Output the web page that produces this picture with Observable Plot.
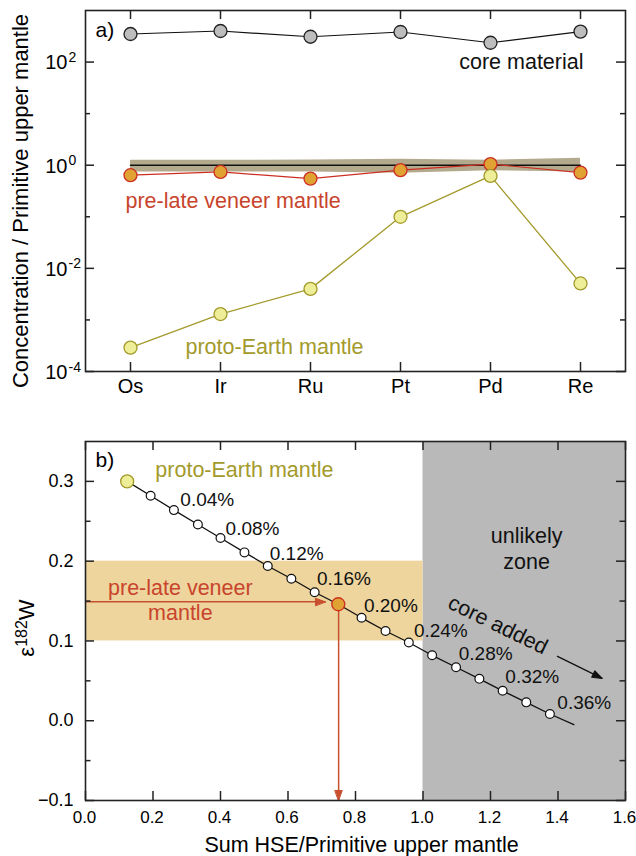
<!DOCTYPE html>
<html><head><meta charset="utf-8">
<script src="https://cdn.jsdelivr.net/npm/d3@7"></script>
<script src="https://cdn.jsdelivr.net/npm/@observablehq/plot@0.6"></script>
<style>
html,body{margin:0;padding:0;background:#fff;}
#chart svg{display:block;}
</style></head><body><div id="chart"></div>
<script>
// ---------- Panel a data ----------
const elements = ["Os", "Ir", "Ru", "Pt", "Pd", "Re"];
const coreMaterial = [350, 400, 310, 383, 237, 390];
const preLateVeneer = [0.64, 0.74, 0.55, 0.80, 1.05, 0.72];
const protoEarth = [2.9e-4, 1.3e-3, 4.0e-3, 0.10, 0.62, 5.1e-3];
const primUpperMantle = [1, 1, 1, 1, 1, 1];
const pumLow = [0.74, 0.74, 0.74, 0.70, 0.78, 0.74];
const pumHigh = [1.25, 1.25, 1.26, 1.30, 1.25, 1.36];
const yTicksMajorA = [1e-4, 1e-2, 1, 1e2];
const yTicksMinorA = [1e-3, 1e-1, 10];

// ---------- Panel b data ----------
const mixSum = [0.1235, 0.193, 0.262, 0.333, 0.400, 0.471, 0.540, 0.610, 0.679, 0.749,
                0.818, 0.889, 0.958, 1.027, 1.098, 1.167, 1.236, 1.306, 1.376];
const mixEps = [0.300, 0.282, 0.264, 0.246, 0.229, 0.211, 0.194, 0.178, 0.161, 0.146,
                0.129, 0.1125, 0.098, 0.082, 0.067, 0.0525, 0.0375, 0.023, 0.0084];
const mixLineEnd = [1.447, -0.005];
const pctText = ["0.04%", "0.08%", "0.12%", "0.16%", "0.20%", "0.24%", "0.28%", "0.32%", "0.36%"];
const pctX = [0.281, 0.415, 0.546, 0.686, 0.825, 0.973, 1.106, 1.244, 1.398];
const pctY = [0.269, 0.2333, 0.202, 0.1696, 0.1367, 0.105, 0.076, 0.047, 0.0146];
const xTicksB = [0, 0.2, 0.4, 0.6, 0.8, 1.0, 1.2, 1.4, 1.6];
const yTicksMajorB = [-0.1, 0, 0.1, 0.2, 0.3];
const yTicksMinorB = [-0.05, 0.05, 0.15, 0.25];
const unlikelyZone = [{x1: 1.0, x2: 1.6, y1: -0.1, y2: 0.35}];
const preLVBand = [{x1: 0, x2: 1.0, y1: 0.1, y2: 0.2}];
const redArrows = [{x1: 0, y1: 0.149, x2: 0.711, y2: 0.149, angle: 90},
                   {x1: 0.75, y1: 0.146, x2: 0.75, y2: -0.1, angle: 180}];
const coreArrow = [{x1: 1.397, y1: 0.081, x2: 1.531, y2: 0.053, angle: 116.4}];

const FONT = "'Liberation Sans', Arial, Helvetica, sans-serif";
const RED = "#cc2f22", RED_TXT = "#c8442c", ORANGE = "#e0a233";
const OLIVE = "#a39a2b", YELLOW = "#eeed98", GREY = "#bdbdbd";
const TICK = "#222";

const rowsA = elements.map((e, i) => ({
  el: e, core: coreMaterial[i], prelv: preLateVeneer[i], proto: protoEarth[i],
  pum: primUpperMantle[i], lo: pumLow[i], hi: pumHigh[i]
}));

const WA = 636, HA = 410, mLA = 85, mRA = 11, mTA = 10, mBA = 39;
const fwA = WA - mLA - mRA, fhA = HA - mTA - mBA;

const plotA = Plot.plot({
  width: WA, height: HA,
  marginLeft: mLA, marginRight: mRA, marginTop: mTA, marginBottom: mBA,
  style: {fontFamily: FONT, fontSize: "20px", color: "black", background: "white", overflow: "visible"},
  x: {type: "point", domain: elements, padding: 0.5},
  y: {type: "log", domain: [1e-4, 1e3], axis: null},
  marks: [
    Plot.areaY(rowsA, {x: "el", y1: "lo", y2: "hi", fill: "#b3aa8e"}),
    Plot.line(rowsA, {x: "el", y: "pum", stroke: "#111", strokeWidth: 1.5}),
    Plot.line(rowsA, {x: "el", y: "core", stroke: "#111", strokeWidth: 1.2}),
    Plot.dot(rowsA, {x: "el", y: "core", r: 6.5, fill: GREY, stroke: "#222", strokeWidth: 1.3}),
    Plot.line(rowsA, {x: "el", y: "prelv", stroke: RED, strokeWidth: 1.2}),
    Plot.dot(rowsA, {x: "el", y: "prelv", r: 6.5, fill: ORANGE, stroke: RED, strokeWidth: 1.3}),
    Plot.line(rowsA, {x: "el", y: "proto", stroke: OLIVE, strokeWidth: 1.3}),
    Plot.dot(rowsA, {x: "el", y: "proto", r: 6.5, fill: YELLOW, stroke: OLIVE, strokeWidth: 1.3}),
    // ticks (inward)
    Plot.tickY(yTicksMajorA, {y: d => d, insetRight: fwA - 9, stroke: TICK, strokeWidth: 1.5}),
    Plot.tickY(yTicksMajorA, {y: d => d, insetLeft: fwA - 9, stroke: TICK, strokeWidth: 1.5}),
    Plot.tickY(yTicksMinorA, {y: d => d, insetRight: fwA - 5, stroke: TICK, strokeWidth: 1.5}),
    Plot.tickY(yTicksMinorA, {y: d => d, insetLeft: fwA - 5, stroke: TICK, strokeWidth: 1.5}),
    Plot.tickX(elements, {x: d => d, insetBottom: fhA - 9, stroke: TICK, strokeWidth: 1.5}),
    Plot.tickX(elements, {x: d => d, insetTop: fhA - 9, stroke: TICK, strokeWidth: 1.5}),
    Plot.frame({stroke: TICK, strokeWidth: 1.6}),
    Plot.axisX({tickSize: 0, tickPadding: 7, fontSize: 20, label: null}),
    Plot.text(yTicksMajorA, {y: d => d, text: () => "10", frameAnchor: "left", dx: -18, dy: 1,
      textAnchor: "end", lineAnchor: "middle", fontSize: 20}),
    Plot.text(yTicksMajorA, {y: d => d, text: d => String(Math.round(Math.log10(d))), frameAnchor: "left", dx: -17,
      textAnchor: "start", lineAnchor: "bottom", fontSize: 14}),
    Plot.text(["Concentration / Primitive upper mantle"], {text: d => d, frameAnchor: "left", rotate: -90,
      dx: -65, dy: 10, textAnchor: "middle", lineAnchor: "middle", fontSize: 22}),
    Plot.text(["a)"], {text: d => d, frameAnchor: "top-left", dx: 10, dy: 26, textAnchor: "start",
      lineAnchor: "bottom", fontSize: 21}),
    Plot.text(["core material"], {text: d => d, x: () => "Re", y: () => 73, dx: 3, textAnchor: "end",
      lineAnchor: "bottom", fontSize: 21.5, fill: "#111"}),
    Plot.text(["pre-late veneer mantle"], {text: d => d, x: () => "Os", y: () => 0.151, dx: -5, textAnchor: "start",
      lineAnchor: "bottom", fontSize: 21.5, fill: RED_TXT}),
    Plot.text(["proto-Earth mantle"], {text: d => d, x: () => "Os", y: () => 2.2e-4, dx: 55, textAnchor: "start",
      lineAnchor: "bottom", fontSize: 21.5, fill: OLIVE})
  ]
});

// ---------- Panel b ----------
const rowsB = mixSum.map((x, i) => ({x, y: mixEps[i]}));
const lineB = rowsB.concat([{x: mixLineEnd[0], y: mixLineEnd[1]}]);
const whiteB = rowsB.filter((d, i) => i !== 0 && i !== 9);
const protoB = [rowsB[0]];
const prelvB = [rowsB[9]];
const pctRows = pctText.map((t, i) => ({t, x: pctX[i], y: pctY[i]}));

const WB = 636, HB = 446, mLB = 85, mRB = 11, mTB = 31, mBB = 56;
const fwB = WB - mLB - mRB, fhB = HB - mTB - mBB;

const headShape = {
  draw(ctx, l) { ctx.moveTo(0, 0); ctx.lineTo(-l * 0.36, l); ctx.lineTo(l * 0.36, l); ctx.closePath(); }
};

const plotB = Plot.plot({
  width: WB, height: HB,
  marginLeft: mLB, marginRight: mRB, marginTop: mTB, marginBottom: mBB,
  style: {fontFamily: FONT, fontSize: "18px", color: "black", background: "white", overflow: "visible"},
  x: {domain: [0, 1.6]},
  y: {domain: [-0.1, 0.35]},
  marks: [
    Plot.rect(unlikelyZone, {x1: "x1", x2: "x2", y1: "y1", y2: "y2", fill: "#b9b9b9"}),
    Plot.rect(preLVBand, {x1: "x1", x2: "x2", y1: "y1", y2: "y2", fill: "#eed49d"}),
    Plot.link(redArrows, {x1: "x1", y1: "y1", x2: "x2", y2: "y2", stroke: "#c8502e", strokeWidth: 1.5}),
    Plot.vector(redArrows, {x: "x2", y: "y2", rotate: "angle", anchor: "start", length: 10, shape: headShape,
      fill: "#c8502e", stroke: "#c8502e", strokeWidth: 1}),
    Plot.line(lineB, {x: "x", y: "y", stroke: "#111", strokeWidth: 1.3}),
    Plot.dot(whiteB, {x: "x", y: "y", r: 4.4, fill: "white", stroke: "#111", strokeWidth: 1.2}),
    Plot.dot(protoB, {x: "x", y: "y", r: 6.5, fill: YELLOW, stroke: OLIVE, strokeWidth: 1.3}),
    Plot.dot(prelvB, {x: "x", y: "y", r: 6.5, fill: ORANGE, stroke: RED, strokeWidth: 1.3}),
    Plot.link(coreArrow, {x1: "x1", y1: "y1", x2: "x2", y2: "y2", stroke: "#111", strokeWidth: 1.3}),
    Plot.vector(coreArrow, {x: "x2", y: "y2", rotate: "angle", anchor: "start", length: 10, shape: headShape,
      fill: "#111", stroke: "#111", strokeWidth: 1}),
    // ticks
    Plot.tickY(yTicksMajorB, {y: d => d, insetRight: fwB - 9, stroke: TICK, strokeWidth: 1.5}),
    Plot.tickY(yTicksMajorB, {y: d => d, insetLeft: fwB - 9, stroke: TICK, strokeWidth: 1.5}),
    Plot.tickY(yTicksMinorB, {y: d => d, insetRight: fwB - 5.5, stroke: TICK, strokeWidth: 1.5}),
    Plot.tickY(yTicksMinorB, {y: d => d, insetLeft: fwB - 5.5, stroke: TICK, strokeWidth: 1.5}),
    Plot.tickX(xTicksB, {x: d => d, insetBottom: fhB - 9, stroke: TICK, strokeWidth: 1.5}),
    Plot.tickX(xTicksB, {x: d => d, insetTop: fhB - 9, stroke: TICK, strokeWidth: 1.5}),
    Plot.frame({stroke: TICK, strokeWidth: 1.6}),
    Plot.axisX({ticks: xTicksB, tickSize: 0, tickPadding: 10, dx: -1, tickFormat: d3.format(".1f"), fontSize: 17, label: null}),
    Plot.axisY({ticks: yTicksMajorB, tickSize: 0, tickPadding: 12, tickFormat: d3.format(".1f"), fontSize: 18, label: null}),
    Plot.text(["Sum HSE/Primitive upper mantle"], {text: d => d, frameAnchor: "bottom", dx: 6, dy: 51,
      lineAnchor: "bottom", fontSize: 21.5}),
    Plot.text(["ε182W"], {text: d => d, frameAnchor: "left", rotate: -90, dx: -52, dy: 7,
      textAnchor: "middle", lineAnchor: "bottom", fontSize: 22}),
    Plot.text(["b)"], {text: d => d, frameAnchor: "top-left", dx: 10, dy: 25, textAnchor: "start",
      lineAnchor: "bottom", fontSize: 21}),
    Plot.text(["proto-Earth mantle"], {text: d => d, x: () => 0.207, y: () => 0.305, textAnchor: "start",
      lineAnchor: "bottom", fontSize: 21.5, fill: OLIVE}),
    Plot.text(["pre-late veneer"], {text: d => d, x: () => 0.281, y: () => 0.158,
      lineAnchor: "bottom", fontSize: 21.5, fill: RED_TXT}),
    Plot.text(["mantle"], {text: d => d, x: () => 0.281, y: () => 0.126,
      lineAnchor: "bottom", fontSize: 21.5, fill: RED_TXT}),
    Plot.text(["unlikely"], {text: d => d, x: () => 1.307, y: () => 0.223,
      lineAnchor: "bottom", fontSize: 21.5, fill: "#111"}),
    Plot.text(["zone"], {text: d => d, x: () => 1.307, y: () => 0.19,
      lineAnchor: "bottom", fontSize: 21.5, fill: "#111"}),
    Plot.text(["core added"], {text: d => d, x: () => 1.222, y: () => 0.120, rotate: 26,
      lineAnchor: "middle", fontSize: 21.5, fill: "#111"}),
    Plot.text(pctRows, {x: "x", y: "y", text: "t", textAnchor: "start", lineAnchor: "bottom", fontSize: 19, fill: "#111"})
  ]
});

// superscript in epsilon label
plotB.querySelectorAll("text").forEach(t => {
  if (t.textContent === "ε182W") {
    t.textContent = "";
    const ns = "http://www.w3.org/2000/svg";
    const a = document.createElementNS(ns, "tspan"); a.textContent = "ε";
    const b = document.createElementNS(ns, "tspan"); b.textContent = "182";
    b.setAttribute("font-size", "16"); b.setAttribute("dy", "-7");
    const c = document.createElementNS(ns, "tspan"); c.textContent = "W";
    c.setAttribute("dy", "7");
    t.append(a, b, c);
  }
});

const chart = document.getElementById("chart");
chart.append(plotA, plotB);
</script></body></html>
